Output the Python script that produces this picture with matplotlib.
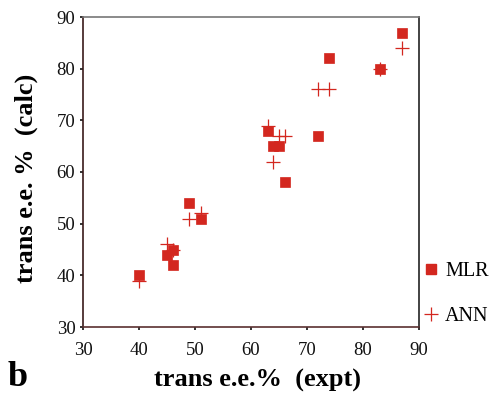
import matplotlib
matplotlib.use("Agg")
import matplotlib.pyplot as plt
from matplotlib.lines import Line2D

plt.rcParams['font.family'] = ['Liberation Serif', 'DejaVu Serif']

mlr_x = [87, 74, 83, 63, 72, 64, 65, 66, 49, 51, 46, 45, 46, 40]
mlr_y = [87, 82, 80, 68, 67, 65, 65, 58, 54, 51, 45, 44, 42, 40]
ann_x = [87, 83, 72, 74, 63, 65, 66, 64, 49, 51, 45, 46, 40]
ann_y = [84, 80, 76, 76, 69, 67, 67, 62, 51, 52, 46, 45, 39]
ticks = [30, 40, 50, 60, 70, 80, 90]

red = '#d3271f'

fig = plt.figure(figsize=(4.95, 3.93), dpi=100)
ax = fig.add_axes([83/495, 1-327/393, (419-83)/495, (327-17)/393])

ax.plot(mlr_x, mlr_y, 's', color=red, markersize=7.2, markeredgewidth=0.5, linestyle='none', zorder=3)
ax.plot(ann_x, ann_y, '+', color=red, markersize=10, markeredgewidth=0.9, linestyle='none', zorder=4)

ax.set_xlim(30, 90)
ax.set_ylim(30, 90)
ax.set_xticks(ticks)
ax.set_yticks(ticks)
ax.tick_params(direction='out', length=2.5, width=1.2, labelsize=13.5, colors='#111111')
ax.tick_params(axis='x', pad=8)
ax.tick_params(axis='y', pad=3)
ax.spines['left'].set_color('#3a1a1a')
ax.spines['bottom'].set_color('#5a3030')
ax.spines['top'].set_color('#777777')
ax.spines['right'].set_color('#222222')
for s in ax.spines.values():
    s.set_linewidth(1.2)

fig.text(257/495, 1-380/393, 'trans e.e.%  (expt)', ha='center', va='center',
         fontsize=19, fontweight='bold')
fig.text(26/495, 1-178/393, 'trans e.e. %  (calc)', ha='center', va='center',
         fontsize=19, fontweight='bold', rotation=90)
fig.text(8/495, 1-378/393, 'b', ha='left', va='center', fontsize=26, fontweight='bold')

handles = [Line2D([], [], marker='s', color=red, linestyle='none', markersize=7.2),
           Line2D([], [], marker='+', color=red, linestyle='none', markersize=10, markeredgewidth=0.9)]
fig.legend(handles, ['MLR', 'ANN'], loc='center left', bbox_to_anchor=(423/495, 1-294/393),
           frameon=False, fontsize=14.5, handlelength=0.8, handletextpad=0.3, labelspacing=1.3,
           borderpad=0, borderaxespad=0)

fig.savefig('out.png', dpi=100)
